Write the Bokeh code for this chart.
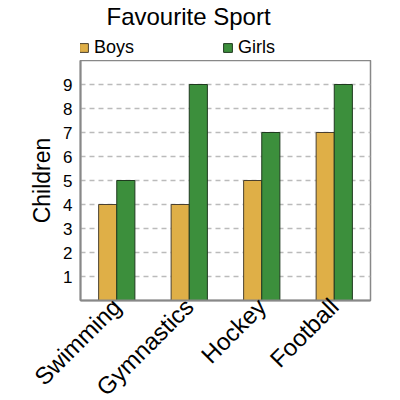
import math
from bokeh.plotting import figure
from bokeh.layouts import column
from bokeh.models import ColumnDataSource, FactorRange, Legend, LegendItem, Title, FixedTicker
from bokeh.transform import dodge
from bokeh.embed import file_html
from bokeh.resources import INLINE

sports = ["Swimming", "Gymnastics", "Hockey", "Football"]
boys = [4, 4, 5, 7]
girls = [5, 9, 7, 9]
y_ticks = [1, 2, 3, 4, 5, 6, 7, 8, 9]
series = ["Boys", "Girls"]
bar_colors = ["#DFAF47", "#3C8F3C"]
edge_colors = ["#4a4030", "#1f3a1f"]

src = ColumnDataSource(data=dict(sport=sports, boys=boys, girls=girls))

# --- header: title + legend (its bars lie outside its view; only the legend shows) ---
head = figure(width=392, height=60, output_backend="svg", toolbar_location=None,
              x_axis_type=None, y_axis_type=None, x_range=(100, 101), y_range=(100, 101),
              min_border_left=80, min_border_right=22, min_border_top=17, min_border_bottom=0)
head.outline_line_color = None
head.xgrid.grid_line_color = None
head.ygrid.grid_line_color = None
head.title = Title(text="Favourite Sport", text_font="Liberation Sans", text_font_size="24px",
                   text_font_style="normal", text_color="black", align="left", offset=26,
                   standoff=0)
dummy = []
for col, c, e in zip(["boys", "girls"], bar_colors, edge_colors):
    dummy.append(head.vbar(x=col, top=col, bottom=col, width=0.1, source=src,
                           fill_color=c, line_color=e))
legend = Legend(items=[LegendItem(label=s, renderers=[r]) for s, r in zip(series, dummy)],
                orientation="horizontal", location=(-2, 2),
                label_text_font="Liberation Sans", label_text_font_size="18px",
                label_text_color="black",
                label_height=14, glyph_width=11, glyph_height=11, spacing=88,
                padding=0, margin=0,
                label_standoff=5, border_line_color=None, background_fill_alpha=0)
head.add_layout(legend, "center")

# --- main plot ---
p = figure(x_range=FactorRange(*sports, range_padding=0), y_range=(0, 10),
           frame_width=290, frame_height=240,
           output_backend="svg", toolbar_location=None,
           min_border_left=80, min_border_right=22, min_border_top=0, min_border_bottom=0)

p.vbar(x=dodge("sport", -0.125, range=p.x_range), top="boys", width=0.25, source=src,
       fill_color=bar_colors[0], line_color=edge_colors[0], line_width=1)
p.vbar(x=dodge("sport", 0.125, range=p.x_range), top="girls", width=0.25, source=src,
       fill_color=bar_colors[1], line_color=edge_colors[1], line_width=1)

p.yaxis.ticker = FixedTicker(ticks=y_ticks)
p.yaxis.axis_label = "Children"
p.yaxis.axis_label_text_font = "Liberation Sans"
p.yaxis.axis_label_text_font_size = "23px"
p.yaxis.axis_label_text_font_style = "normal"
p.yaxis.axis_label_text_color = "black"
p.yaxis.major_label_text_font = "Liberation Sans"
p.yaxis.major_label_text_font_size = "17px"
p.yaxis.major_label_text_color = "black"
p.yaxis.major_label_standoff = 8
p.xaxis.major_label_text_font = "Liberation Sans"
p.xaxis.major_label_text_font_size = "24px"
p.xaxis.major_label_text_color = "black"
p.xaxis.major_label_orientation = math.pi / 4
p.xaxis.major_label_standoff = 2

for ax in (p.xaxis[0], p.yaxis[0]):
    ax.major_tick_line_color = None
    ax.minor_tick_line_color = None
    ax.major_tick_out = 0
    ax.major_tick_in = 0
    ax.minor_tick_out = 0
    ax.minor_tick_in = 0
    ax.axis_line_color = "#888888"
    ax.axis_line_width = 2

p.outline_line_color = "#888888"
p.outline_line_width = 1.5
p.xgrid.grid_line_color = None
p.ygrid.grid_line_color = "#bbbbbb"
p.ygrid.grid_line_dash = "5 4"
p.ygrid.grid_line_width = 1.5

layout = column(head, p, spacing=0)
open("out.html", "w").write(file_html(layout, INLINE))
